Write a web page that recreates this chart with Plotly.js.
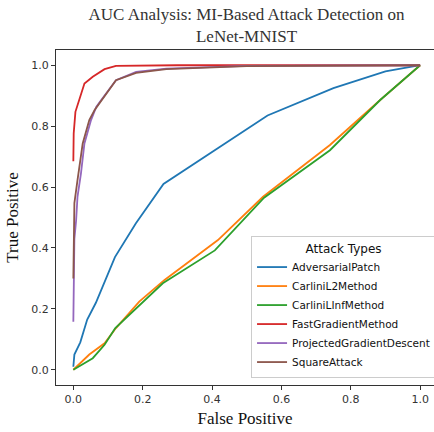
<!DOCTYPE html>
<html>
<head>
<meta charset="utf-8">
<script src="https://cdn.plot.ly/plotly-3.0.1.min.js"></script>
<style>html,body{margin:0;padding:0;background:#fff;}#chart{width:434px;height:432px;}</style>
</head>
<body>
<div id="chart"></div>
<script>
const seriesNames = ["AdversarialPatch","CarliniL2Method","CarliniLInfMethod","FastGradientMethod","ProjectedGradientDescent","SquareAttack"];
const seriesColors = ["#1f77b4","#ff7f0e","#2ca02c","#d62728","#9467bd","#8c564b"];

const patchFpr = [0, 0.003, 0.02, 0.04, 0.065, 0.09, 0.12, 0.18, 0.26, 0.56, 0.75, 0.9, 1.0];
const patchTpr = [0.01, 0.05, 0.09, 0.165, 0.22, 0.29, 0.37, 0.48, 0.61, 0.835, 0.925, 0.98, 1.0];

const cwl2Fpr = [0, 0.046, 0.09, 0.123, 0.19, 0.263, 0.417, 0.547, 0.74, 0.884, 1.0];
const cwl2Tpr = [0, 0.05, 0.087, 0.137, 0.224, 0.295, 0.426, 0.568, 0.738, 0.885, 1.0];

const cwinfFpr = [0, 0.027, 0.056, 0.09, 0.121, 0.258, 0.408, 0.55, 0.74, 0.884, 1.0];
const cwinfTpr = [0, 0.019, 0.038, 0.082, 0.137, 0.284, 0.392, 0.565, 0.721, 0.885, 1.0];

const fgmFpr = [0, 0.001, 0.006, 0.013, 0.022, 0.032, 0.056, 0.09, 0.123, 0.3, 1.0];
const fgmTpr = [0.685, 0.776, 0.847, 0.874, 0.907, 0.94, 0.962, 0.987, 0.998, 1.0, 1.0];

const pgdFpr = [0, 0.003, 0.008, 0.012, 0.022, 0.032, 0.051, 0.066, 0.08, 0.123, 0.181, 0.268, 0.5, 1.0];
const pgdTpr = [0.158, 0.43, 0.49, 0.568, 0.645, 0.743, 0.82, 0.863, 0.885, 0.951, 0.978, 0.989, 0.998, 1.0];

const sqFpr = [0, 0.001, 0.003, 0.012, 0.027, 0.046, 0.061, 0.123, 0.181, 0.268, 0.5, 1.0];
const sqTpr = [0.30, 0.45, 0.547, 0.623, 0.743, 0.82, 0.852, 0.951, 0.975, 0.987, 0.997, 1.0];

const xs = [patchFpr, cwl2Fpr, cwinfFpr, fgmFpr, pgdFpr, sqFpr];
const ys = [patchTpr, cwl2Tpr, cwinfTpr, fgmTpr, pgdTpr, sqTpr];

const tickVals = [0, 0.2, 0.4, 0.6, 0.8, 1.0];
const tickText = ["0.0","0.2","0.4","0.6","0.8","1.0"];

const traces = seriesNames.map((n, i) => ({
  x: xs[i], y: ys[i], name: n, type: "scatter", mode: "lines",
  line: {color: seriesColors[i], width: 1.8}
}));

const tickFont = {family: "DejaVu Sans", size: 11, color: "#333"};
const layout = {
  width: 434, height: 432,
  margin: {l: 56, r: 0, t: 50, b: 47, autoexpand: false},
  paper_bgcolor: "#fff", plot_bgcolor: "#fff",
  title: {
    text: "AUC Analysis: MI-Based Attack Detection on<br>LeNet-MNIST",
    font: {family: "Liberation Serif", size: 17, color: "#333"},
    x: 0.568, xref: "container", xanchor: "center",
    y: 0.954, yref: "container", yanchor: "top", automargin: false
  },
  xaxis: {
    range: [-0.05, 1.04], tickvals: tickVals, ticktext: tickText, automargin: false,
    showgrid: false, zeroline: false, showline: true, mirror: true,
    linecolor: "#333", linewidth: 1, ticks: "outside", ticklen: 4, tickcolor: "#333",
    tickfont: tickFont,
    title: {text: "False Positive", font: {family: "Liberation Serif", size: 17, color: "#111"}, standoff: 6}
  },
  yaxis: {
    range: [-0.05, 1.05], tickvals: tickVals, ticktext: tickText, automargin: false,
    showgrid: false, zeroline: false, showline: true, mirror: false,
    linecolor: "#333", linewidth: 1, ticks: "outside", ticklen: 4, tickcolor: "#333",
    tickfont: tickFont,
    title: {text: "True Positive", font: {family: "Liberation Serif", size: 17, color: "#111"}, standoff: 8}
  },
  legend: {
    title: {text: "Attack Types", font: {family: "DejaVu Sans", size: 12, color: "#111"}, side: "top center"},
    font: {family: "DejaVu Sans", size: 10.5, color: "#111"},
    x: 0.516, xanchor: "left", y: 0.021, yanchor: "bottom",
    bgcolor: "rgba(255,255,255,0.85)", bordercolor: "#ccc", borderwidth: 1,
    itemwidth: 30, tracegroupgap: 0
  },
  showlegend: true
};

Plotly.newPlot("chart", traces, layout, {displayModeBar: false, staticPlot: true});
</script>
</body>
</html>
